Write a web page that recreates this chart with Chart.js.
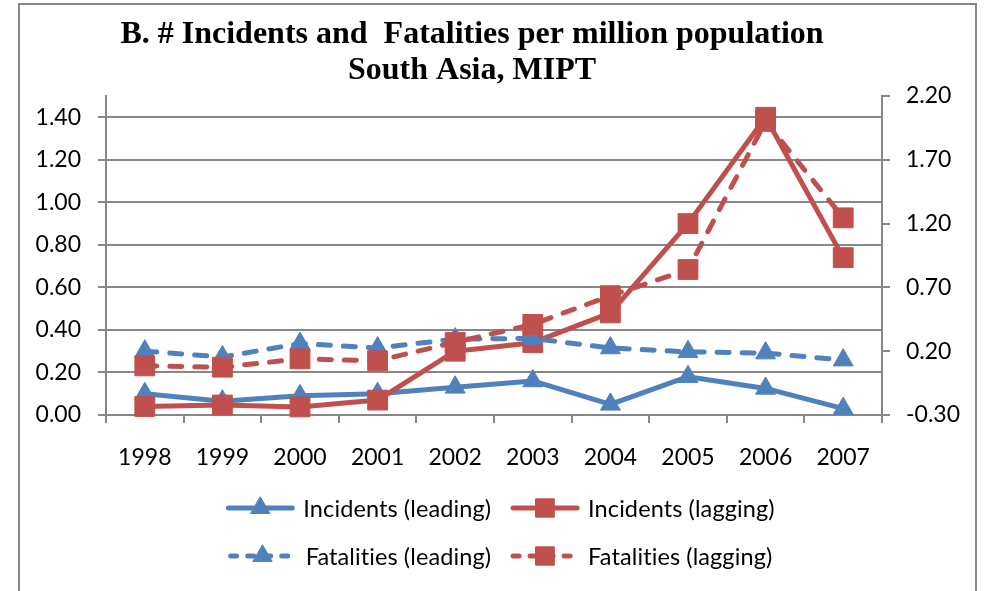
<!DOCTYPE html>
<html>
<head>
<meta charset="utf-8">
<title>Incidents and Fatalities per million population - South Asia</title>
<script src="https://cdn.jsdelivr.net/npm/chart.js@4.4.1/dist/chart.umd.min.js"></script>
<style>
  html, body { margin: 0; padding: 0; background: #fff; }
  #wrap { width: 987px; height: 591px; }
</style>
</head>
<body>
<div id="wrap"><canvas id="chart" width="987" height="591"></canvas></div>
<script>
// --- Data ---
const years = ['1998', '1999', '2000', '2001', '2002', '2003', '2004', '2005', '2006', '2007'];

// left axis (incidents per million)
const incidentsLeading = [0.10, 0.065, 0.09, 0.10, 0.13, 0.16, 0.05, 0.18, 0.125, 0.03];
const incidentsLagging = [0.04, 0.047, 0.038, 0.07, 0.30, 0.34, 0.48, 0.90, 1.40, 0.74];

// right axis (fatalities per million)
const fatalitiesLeading = [0.20, 0.155, 0.26, 0.225, 0.295, 0.30, 0.225, 0.195, 0.185, 0.13];
const fatalitiesLagging = [0.085, 0.075, 0.14, 0.125, 0.27, 0.41, 0.635, 0.84, 2.00, 1.245];

const leftTicks = [0, 0.2, 0.4, 0.6, 0.8, 1.0, 1.2, 1.4];
const rightTicks = [-0.3, 0.2, 0.7, 1.2, 1.7, 2.2];

const titleLines = ['B. # Incidents and  Fatalities per million population', 'South Asia, MIPT'];

// --- Styles ---
const BLUE = '#4F81BD';
const RED = '#C0504D';
const GRID = '#878787';
const tickFont = { family: 'Lato', size: 23 };

function series(label, data, color, axis, dashed, marker, order) {
    return {
        label: label,
        data: data,
        yAxisID: axis,
        order: order,
        dashed: dashed,
        borderColor: color,
        backgroundColor: color,
        borderWidth: 5,
        borderDash: dashed ? [12, 13] : [],
        borderCapStyle: dashed ? 'round' : 'butt',
        borderJoinStyle: 'round',
        pointStyle: marker,
        pointRadius: marker === 'rect' ? 14 : 11.5,
        pointBorderWidth: 1,
        pointBorderColor: color,
        pointBackgroundColor: color,
        tension: 0,
        clip: false
    };
}

// outer frame of the chart
const framePlugin = {
    id: 'frame',
    beforeDraw(chart) {
        const c = chart.ctx;
        c.save();
        c.fillStyle = '#fff';
        c.fillRect(0, 0, chart.width, chart.height);
        c.strokeStyle = GRID;
        c.lineWidth = 2;
        c.strokeRect(19, 4, 957, 640);
        c.restore();
    }
};

// two-line bold title
const titlePlugin = {
    id: 'twoLineTitle',
    afterDraw(chart) {
        const c = chart.ctx;
        c.save();
        c.font = 'bold 32px "Liberation Serif"';
        c.fillStyle = '#000';
        c.textAlign = 'center';
        c.textBaseline = 'alphabetic';
        c.fillText(titleLines[0], 472, 43);
        c.fillText(titleLines[1], 472, 79);
        c.restore();
    }
};

// legend laid out in two rows, line sample with marker in the middle
const legendPlugin = {
    id: 'rowLegend',
    afterDraw(chart) {
        const c = chart.ctx;
        const sets = chart.data.datasets;
        const rows = [[sets[0], sets[1]], [sets[2], sets[3]]];
        const rowY = [508, 556];
        const sampleW = 70, textGap = 8, itemGap = 19;
        c.save();
        c.font = '23.5px Lato';
        c.letterSpacing = '0.1px';
        c.textBaseline = 'middle';
        rows.forEach((row, r) => {
            const widths = row.map(ds => sampleW + textGap + c.measureText(ds.label).width);
            const total = widths.reduce((a, b) => a + b, 0) + itemGap * (row.length - 1);
            let x = 500 - total / 2;
            const y = rowY[r];
            row.forEach((ds, i) => {
                c.strokeStyle = ds.borderColor;
                c.fillStyle = ds.borderColor;
                c.lineWidth = 5;
                c.lineCap = 'round';
                c.setLineDash(ds.dashed ? [6, 11] : []);
                c.beginPath();
                c.moveTo(x + 3, y);
                c.lineTo(x + sampleW - 3, y);
                c.stroke();
                c.setLineDash([]);
                c.lineWidth = 1;
                Chart.helpers.drawPoint(c, {
                    pointStyle: ds.pointStyle,
                    radius: ds.pointStyle === 'rect' ? 13 : 11,
                    rotation: 0,
                    borderWidth: 1
                }, x + sampleW / 2, y);
                c.fillStyle = '#000';
                c.textAlign = 'left';
                c.fillText(ds.label, x + sampleW + textGap, y + 1);
                x += widths[i] + itemGap;
            });
        });
        c.restore();
    }
};

const ctx = document.getElementById('chart').getContext('2d');

const chart = new Chart(ctx, {
    type: 'line',
    data: {
        labels: years,
        datasets: [
            series('Incidents (leading)', incidentsLeading, BLUE, 'y', false, 'triangle', 4),
            series('Incidents (lagging)', incidentsLagging, RED, 'y', false, 'rect', 3),
            series('Fatalities (leading)', fatalitiesLeading, BLUE, 'y2', true, 'triangle', 2),
            series('Fatalities (lagging)', fatalitiesLagging, RED, 'y2', true, 'rect', 1)
        ]
    },
    options: {
        responsive: false,
        animation: false,
        layout: { padding: { top: 96, left: 0, right: 0, bottom: 0 } },
        scales: {
            x: {
                offset: true,
                grid: { offset: true, drawOnChartArea: false, tickLength: 8, color: GRID, lineWidth: 2 },
                border: { color: GRID, width: 2 },
                ticks: { font: tickFont, color: '#000', padding: 21, maxRotation: 0, autoSkip: false },
                afterFit: s => { s.height = 176; }
            },
            y: {
                position: 'left',
                min: 0,
                max: 1.5,
                afterBuildTicks: s => { s.ticks = leftTicks.map(v => ({ value: v })); },
                grid: { color: GRID, lineWidth: 2, tickLength: 8 },
                border: { color: GRID, width: 2 },
                ticks: { font: tickFont, color: '#000', padding: 17, callback: v => v.toFixed(2) },
                afterFit: s => { s.width = 106; }
            },
            y2: {
                position: 'right',
                min: -0.3,
                max: 2.2,
                afterBuildTicks: s => { s.ticks = rightTicks.map(v => ({ value: v })); },
                grid: { drawOnChartArea: false, color: GRID, lineWidth: 2, tickLength: 8 },
                border: { color: GRID, width: 2 },
                ticks: { font: tickFont, color: '#000', padding: 16, callback: v => v.toFixed(2) },
                afterFit: s => { s.width = 105; }
            }
        },
        plugins: {
            legend: { display: false },
            title: { display: false },
            tooltip: { enabled: false }
        }
    },
    plugins: [framePlugin, titlePlugin, legendPlugin]
});
</script>
</body>
</html>
